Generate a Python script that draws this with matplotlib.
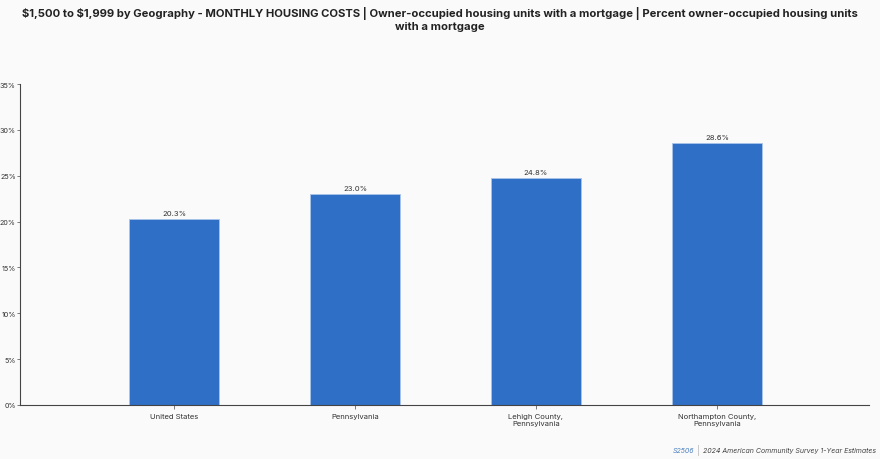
import matplotlib.pyplot as plt

plt.rcParams["font.family"] = "Inter"

geographies = ["United States", "Pennsylvania", "Lehigh County,\nPennsylvania",
               "Northampton County,\nPennsylvania"]
percents = [20.3, 23.0, 24.8, 28.6]
y_ticks = [0, 5, 10, 15, 20, 25, 30, 35]

fig = plt.figure(figsize=(8.8, 4.6), dpi=100, facecolor="#fafafa")
ax = fig.add_axes([20 / 880, 54 / 460, 849 / 880, 321 / 460], facecolor="#fafafa")

x = list(range(len(geographies)))
bars = ax.bar(x, percents, width=0.5, color="#2f6fc6", edgecolor="#aac4ea", linewidth=0.6)
for b, v in zip(bars, percents):
    ax.text(b.get_x() + b.get_width() / 2, v + 0.3, f"{v:.1f}%", ha="center",
            va="bottom", fontsize=5.5, color="#333333")

ax.set_xlim(-0.851, 3.84)
ax.set_ylim(0, 35)
ax.set_xticks(x)
ax.set_xticklabels(geographies, fontsize=5.5, color="#333333")
ax.set_yticks(y_ticks)
ax.set_yticklabels([f"{t}%" for t in y_ticks], fontsize=5.2, color="#333333")
ax.tick_params(axis="x", length=3, width=0.6, color="#666666", pad=3)
ax.tick_params(axis="y", length=2, width=0.6, color="#666666", pad=1)
for s in ["top", "right"]:
    ax.spines[s].set_visible(False)
for s in ["left", "bottom"]:
    ax.spines[s].set_color("#444444")
    ax.spines[s].set_linewidth(0.8)

fig.text(0.5, 0.985, "\\$1,500 to \\$1,999 by Geography - MONTHLY HOUSING COSTS | Owner-occupied housing units with a mortgage | Percent owner-occupied housing units\nwith a mortgage",
         ha="center", va="top", fontsize=8.1, fontweight="bold", color="#222222",
         linespacing=1.25)
fig.text(694 / 880, 0.02, "S2506", ha="right", va="center", fontsize=5,
         style="italic", color="#4a7fc0")
fig.text(697 / 880, 0.02, "|", ha="left", va="center", fontsize=6.5, color="#bbbbbb")
fig.text(703 / 880, 0.02, "2024 American Community Survey 1-Year Estimates", ha="left",
         va="center", fontsize=5, style="italic", color="#444444")

fig.savefig("out.png", facecolor=fig.get_facecolor())
